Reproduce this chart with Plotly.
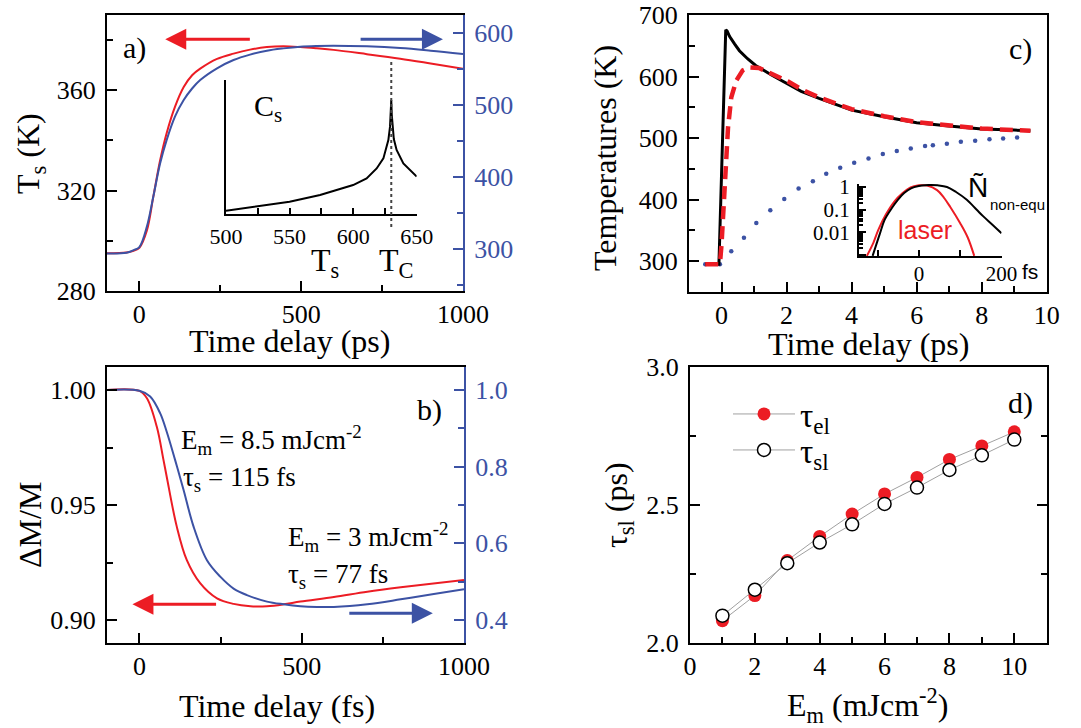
import plotly.graph_objects as go

# ---------------- data ----------------
# panel a) : spin temperature vs time (ps)
a_time_ps = [-100, -40, -18, 0, 23, 43, 64, 84, 110, 137, 163, 188, 240, 291, 342, 394, 445, 497, 548, 600, 703, 806, 900, 1000]
a_Ts_red = [295.0, 295.3, 296.0, 297.2, 304.0, 317.5, 332.0, 342.8, 353.4, 361.3, 366.0, 368.6, 372.5, 374.6, 376.2, 377.2, 377.5, 377.2, 376.7, 376.1, 374.4, 372.6, 370.7, 368.6]
a_Ts_blue = [294.0, 295.0, 298.6, 303.0, 331.0, 372.7, 419.0, 451.0, 484.0, 507.0, 523.0, 534.7, 551.0, 562.5, 570.0, 575.5, 578.7, 581.0, 582.0, 582.4, 581.5, 579.2, 575.5, 570.9]

# inset a) : specific heat C_s vs T_s
cs_T = [500, 524, 550, 574, 600, 610.6, 618.5, 623.8, 627.7, 629.0, 629.6, 630.0, 630.4, 631.0, 632.0, 634.2, 639.5, 650]
cs_val = [0.025, 0.055, 0.092, 0.142, 0.216, 0.266, 0.34, 0.415, 0.552, 0.65, 0.74, 0.851, 0.74, 0.64, 0.56, 0.478, 0.378, 0.279]
T_C = 630

# panel b) : magnetisation vs time (fs)
b_red_t = [-100, 0, 23, 53.5, 74, 84, 115, 146, 187, 239, 290, 342, 393, 444, 496, 599, 702, 805, 1000]
b_red_M = [1.0, 0.9996, 0.9964, 0.984, 0.9696, 0.9623, 0.9406, 0.926, 0.916, 0.9094, 0.907, 0.906, 0.906, 0.9068, 0.908, 0.910, 0.9123, 0.9142, 0.9174]
b_blue_t = [-100, 0, 33, 64, 84, 110, 136, 167, 208, 249, 290, 331, 393, 444, 496, 547, 599, 702, 805, 907, 1000]
b_blue_M = [1.0, 0.998, 0.983, 0.939, 0.891, 0.817, 0.739, 0.643, 0.556, 0.513, 0.482, 0.465, 0.448, 0.441, 0.436, 0.434, 0.434, 0.441, 0.454, 0.468, 0.480]

# panel c) : temperatures vs time (ps)
c_black_t = [-0.5, -0.08, 0.0, 0.05, 0.1, 0.13, 0.17, 0.25, 0.4, 0.55, 0.8, 1.05, 1.55, 2.05, 2.45, 3.0, 4.0, 5.0, 6.0, 7.0, 8.0, 9.0, 9.5]
c_black_T = [295, 295, 440, 531, 622, 676, 674, 665, 653, 642, 629, 618, 602, 588, 576, 564.5, 545.5, 534.7, 525, 519.5, 515, 513, 512]
c_red_t = [-0.5, -0.05, 0.0, 0.1, 0.2, 0.3, 0.45, 0.65, 0.85, 1.15, 1.55, 2.05, 2.5, 3.0, 4.0, 5.0, 6.0, 7.0, 8.0, 9.0, 9.5]
c_red_T = [295, 295, 327, 436, 517, 566, 593, 610, 615, 614, 604, 592, 578, 566, 547, 535.5, 526, 520, 515.5, 513, 512]
c_blue_t = [-0.5, -0.05, 0.30, 0.69, 1.07, 1.50, 1.93, 2.37, 2.81, 3.22, 3.65, 4.08, 4.52, 4.96, 5.39, 5.82, 6.26, 6.50, 6.93, 7.36, 7.80, 8.24, 8.66, 9.09]
c_blue_T = [295, 295, 316, 338, 362, 383, 401, 418, 430, 442, 452, 460, 467, 474, 479, 483, 487, 488.6, 491, 494, 495.7, 498, 499.5, 501]

# inset c) : laser pulse and non-equilibrium electrons (fs, log scale)
laser_t = [-126, -110, -98, -80, -59, -40, -20, 0, 9, 20, 44, 60, 76, 100, 118, 134]
laser_v = [0.0009, 0.0035, 0.013, 0.06, 0.23, 0.52, 0.95, 1.18, 1.2, 1.15, 0.72, 0.35, 0.13, 0.025, 0.006, 0.0009]
neq_t = [-112, -95, -83, -65, -51, -35, -19, 0, 15, 29, 45, 68, 90, 116, 140, 156, 180, 200]
neq_v = [0.0009, 0.008, 0.035, 0.12, 0.27, 0.55, 0.87, 1.1, 1.2, 1.22, 1.18, 1.0, 0.6, 0.27, 0.098, 0.05, 0.02, 0.009]

# panel d) : relaxation times vs fluence
d_E = [1, 2, 3, 4, 5, 6, 7, 8, 9, 10]
d_tau_el = [2.081, 2.172, 2.299, 2.386, 2.467, 2.540, 2.600, 2.665, 2.714, 2.765]
d_tau_sl = [2.099, 2.193, 2.289, 2.364, 2.430, 2.504, 2.563, 2.627, 2.680, 2.737]

# ---------------- style ----------------
W, H = 1081, 728
SERIF = "Liberation Serif, Times New Roman, serif"
SANS = "Liberation Sans, Arial, sans-serif"
RED = "#ec1c24"
BLUE = "#3c52a4"
BLACK = "#000000"


def px(x):
    return x / W


def py(y):
    return 1 - y / H


fig = go.Figure()

# panel a
fig.add_trace(go.Scatter(x=a_time_ps, y=a_Ts_red, xaxis="x", yaxis="y", mode="lines",
                         line=dict(color=RED, width=2, shape="spline"), showlegend=False))
fig.add_trace(go.Scatter(x=a_time_ps, y=a_Ts_blue, xaxis="x", yaxis="y2", mode="lines",
                         line=dict(color=BLUE, width=2, shape="spline"), showlegend=False))
# panel b
fig.add_trace(go.Scatter(x=b_red_t, y=b_red_M, xaxis="x2", yaxis="y3", mode="lines",
                         line=dict(color=RED, width=2, shape="spline"), showlegend=False))
fig.add_trace(go.Scatter(x=b_blue_t, y=b_blue_M, xaxis="x2", yaxis="y4", mode="lines",
                         line=dict(color=BLUE, width=2, shape="spline"), showlegend=False))
# panel c
fig.add_trace(go.Scatter(x=c_blue_t, y=c_blue_T, xaxis="x3", yaxis="y5", mode="markers",
                         marker=dict(color=BLUE, size=4.5), showlegend=False))
fig.add_trace(go.Scatter(x=c_black_t, y=c_black_T, xaxis="x3", yaxis="y5", mode="lines",
                         line=dict(color=BLACK, width=3), showlegend=False))
fig.add_trace(go.Scatter(x=c_red_t, y=c_red_T, xaxis="x3", yaxis="y5", mode="lines",
                         line=dict(color=RED, width=4.5, dash="13px,7px"), showlegend=False))
# panel d
fig.add_trace(go.Scatter(x=d_E, y=d_tau_el, xaxis="x4", yaxis="y6", mode="lines+markers",
                         name="τ<sub>el</sub>", legend="legend",
                         line=dict(color="#a0a0a0", width=1),
                         marker=dict(color=RED, size=13, line=dict(width=0))))
fig.add_trace(go.Scatter(x=d_E, y=d_tau_sl, xaxis="x4", yaxis="y6", mode="lines+markers",
                         name="τ<sub>sl</sub>", legend="legend2",
                         line=dict(color="#a0a0a0", width=1),
                         marker=dict(color="white", size=13, line=dict(color=BLACK, width=1.5))))
# inset a
fig.add_trace(go.Scatter(x=cs_T, y=cs_val, xaxis="x5", yaxis="y7", mode="lines",
                         line=dict(color=BLACK, width=2), showlegend=False))
# inset c
fig.add_trace(go.Scatter(x=laser_t, y=laser_v, xaxis="x6", yaxis="y8", mode="lines",
                         line=dict(color=RED, width=2, shape="spline"), showlegend=False))
fig.add_trace(go.Scatter(x=neq_t, y=neq_v, xaxis="x6", yaxis="y8", mode="lines",
                         line=dict(color=BLACK, width=2, shape="spline"), showlegend=False))


def axis(domain, anchor, rng, tickvals, minor_dtick=None, ticktext=None, color=BLACK,
         mirror=True, font=None, ticklen=10, minorlen=6, standoff=4, **kw):
    d = dict(domain=domain, anchor=anchor, range=rng, showline=True, linecolor=color,
             linewidth=2, mirror=mirror, ticks="inside", ticklen=ticklen, tickwidth=2,
             tickcolor=color, tickvals=tickvals, showgrid=False, zeroline=False,
             automargin=False,
             tickfont=font or dict(family=SERIF, size=26, color=color),
             ticklabelstandoff=standoff)
    if ticktext is not None:
        d["ticktext"] = ticktext
    if minor_dtick is not None:
        d["minor"] = dict(ticks="inside", ticklen=minorlen, tickwidth=2, tickcolor=color,
                          dtick=minor_dtick, tick0=0, showgrid=False)
    d.update(kw)
    return d


A_X = [px(107), px(463)]
A_Y = [py(291), py(15)]
B_X = [px(107), px(464)]
B_Y = [py(643), py(367)]
C_X = [px(689), px(1046.7)]
C_Y = [py(292), py(15)]
D_X = [px(690), px(1046.7)]
D_Y = [py(643), py(367)]
IA_X = [px(226), px(416.7)]
IA_Y = [py(214), py(80)]
IC_X = [px(859), px(1001.5)]
IC_Y = [py(256), py(184)]

log_minor = [k * 10.0 ** e for e in (-3, -2, -1, 0) for k in range(2, 10)]
XS = -1  # x tick label standoff

LEG = dict(x=px(728), xanchor="left", yanchor="middle",
           font=dict(family=SERIF, size=33, color=BLACK),
           bgcolor="rgba(0,0,0,0)", itemwidth=62, tracegroupgap=0)

fig.update_layout(
    width=W, height=H, autosize=False,
    margin=dict(l=0, r=0, t=0, b=0, pad=0, autoexpand=False),
    paper_bgcolor="white", plot_bgcolor="rgba(0,0,0,0)",
    font=dict(family=SERIF, color=BLACK),
    # panel a
    xaxis=axis(A_X, "y", [-100, 1000], [0, 500, 1000], 250, standoff=XS),
    yaxis=axis(A_Y, "x", [280, 390], [280, 320, 360], 20, mirror=False),
    yaxis2=axis(A_Y, "x", [242, 625], [300, 400, 500, 600], 50, color=BLUE,
                mirror=False, overlaying="y", side="right"),
    # panel b
    xaxis2=axis(B_X, "y3", [-100, 1000], [0, 500, 1000], 250, standoff=XS),
    yaxis3=axis(B_Y, "x2", [0.89, 1.01], [0.90, 0.95, 1.00], 0.025,
                ticktext=["0.90", "0.95", "1.00"], mirror=False),
    yaxis4=axis(B_Y, "x2", [0.34, 1.06], [0.4, 0.6, 0.8, 1.0], 0.1,
                ticktext=["0.4", "0.6", "0.8", "1.0"], color=BLUE, mirror=False,
                overlaying="y3", side="right"),
    # panel c
    xaxis3=axis(C_X, "y5", [-1, 10], [0, 2, 4, 6, 8, 10], 1, standoff=XS),
    yaxis5=axis(C_Y, "x3", [250, 700], [300, 400, 500, 600, 700], 50),
    # panel d
    xaxis4=axis(D_X, "y6", [0, 11], [0, 2, 4, 6, 8, 10], 1, standoff=XS),
    yaxis6=axis(D_Y, "x4", [2.0, 3.0], [2.0, 2.5, 3.0], 0.25,
                ticktext=["2.0", "2.5", "3.0"], mirror="allticks"),
    # inset a
    xaxis5=axis(IA_X, "y7", [500, 650], [500, 550, 600, 650], 25, mirror=False,
                font=dict(family=SERIF, size=22, color=BLACK), ticklen=6, minorlen=6,
                standoff=2),
    yaxis7=dict(domain=IA_Y, anchor="x5", range=[0, 1], showline=True, linecolor=BLACK,
                linewidth=2, ticks="", showticklabels=False, showgrid=False, zeroline=False,
                automargin=False),
    # inset c
    xaxis6=dict(domain=IC_X, anchor="y8", range=[-145, 200], showline=True, linecolor=BLACK,
                linewidth=2, ticks="inside", ticklen=6, tickwidth=2, tickcolor=BLACK,
                tickvals=[0, 200], ticktext=["0", "200"], showgrid=False, zeroline=False,
                automargin=False,
                tickfont=dict(family=SERIF, size=21, color=BLACK), ticklabelstandoff=-2,
                minor=dict(ticks="inside", ticklen=6, tickwidth=2, tickcolor=BLACK,
                           tickvals=[-100, 100], showgrid=False)),
    yaxis8=dict(domain=IC_Y, anchor="x6", type="log", range=[-3.05, 0.13], showline=True,
                linecolor=BLACK, linewidth=2, ticks="inside", ticklen=7, tickwidth=2,
                tickcolor=BLACK, tickvals=[0.001, 0.01, 0.1, 1], ticktext=["", "0.01", "0.1", "1"],
                showgrid=False, zeroline=False, ticklabelstandoff=3, automargin=False,
                tickfont=dict(family=SERIF, size=21, color=BLACK),
                minor=dict(ticks="inside", ticklen=4, tickwidth=1.5, tickcolor=BLACK,
                           tickvals=log_minor, showgrid=False)),
    legend=dict(LEG, y=py(414)),
    legend2=dict(LEG, y=py(450)),
)

ann = []


def text(t, x, y, size=30, family=SERIF, color=BLACK, xanchor="center", angle=0):
    ann.append(dict(text=t, x=px(x), y=py(y), xref="paper", yref="paper", showarrow=False,
                    xanchor=xanchor, yanchor="middle", textangle=angle,
                    font=dict(family=family, size=size, color=color)))


# panel labels
text("a)", 134, 48)
text("b)", 429, 410)
text("c)", 1020, 49)
text("d)", 1020, 403)

# axis titles
text("T<sub>s</sub> (K)", 30, 153, size=32, angle=-90)
text("Time delay (ps)", 289, 341, size=32)
text("ΔM/M", 30, 525, size=32, angle=-90)
text("Time delay (fs)", 277, 706, size=32)
text("Temperatures (K)", 605, 158, size=32, angle=-90)
text("Time delay (ps)", 868, 344, size=32)
text("τ<sub>sl</sub> (ps)", 618, 505, size=32, angle=-90)
text("E<sub>m</sub> (mJcm<sup>-2</sup>)", 867, 705, size=32)

# inset a labels
text("C<sub>s</sub>", 252, 108, size=30, xanchor="left")
text("T<sub>s</sub>", 309, 262, size=32, xanchor="left")
text("T<sub>C</sub>", 377, 262, size=32, xanchor="left")

# panel b annotations
text("E<sub>m</sub> = 8.5 mJcm<sup>-2</sup>", 179, 440, size=27, xanchor="left")
text("τ<sub>s</sub> = 115 fs", 181, 479, size=27, xanchor="left")
text("E<sub>m</sub> = 3 mJcm<sup>-2</sup>", 286, 537, size=27, xanchor="left")
text("τ<sub>s</sub> = 77 fs", 286, 576, size=27, xanchor="left")

# inset c labels
text("laser", 925, 230, size=25, family=SANS, color=RED)
text("Ñ", 978, 188, size=28, family=SANS)
text("non-equ", 988, 204, size=15, family=SANS, xanchor="left")
text("fs", 1020, 271, size=21, family=SANS, xanchor="left")


# arrows
def arrow(x_head, x_tail, y, xref, yref, color):
    ann.append(dict(x=x_head, y=y, ax=x_tail, ay=y, xref=xref, yref=yref, axref=xref,
                    ayref=yref, showarrow=True, arrowhead=2, arrowsize=1.4, arrowwidth=3,
                    arrowcolor=color, text=""))


arrow(80, 346, 380.3, "x", "y", RED)
arrow(938, 679, 380.3, "x", "y", BLUE)
arrow(-21.6, 240.7, 0.9068, "x2", "y3", RED)
arrow(904, 642, 0.9029, "x2", "y3", BLUE)

fig.update_layout(annotations=ann)

# dotted line marking T_C (from the inset scale up to the main curve)
x_tc = IA_X[0] + (T_C - 500) / 150 * (IA_X[1] - IA_X[0])
fig.add_shape(type="line", xref="paper", yref="paper", x0=x_tc, x1=x_tc,
              y0=py(227), y1=py(62), line=dict(color="#444444", width=2, dash="dot"))

fig.write_html("out.html", config={"responsive": False, "displayModeBar": False},
               post_script="document.body.style.margin='0px';document.body.style.overflow='hidden';")
